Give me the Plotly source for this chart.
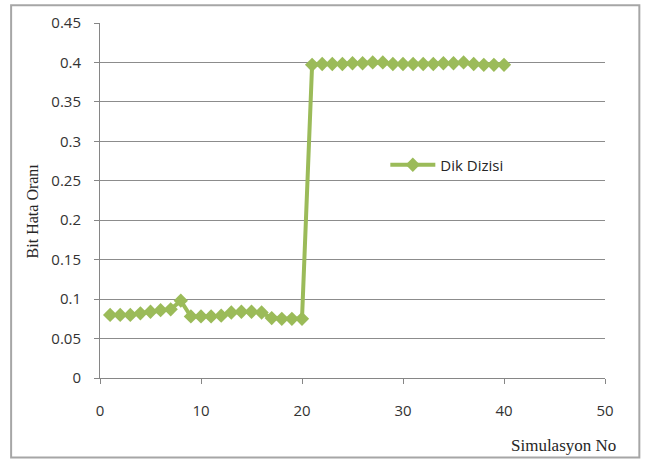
import plotly.graph_objects as go

# Simulation number and bit error rate for the orthogonal sequence
sim_no = list(range(1, 41))
bit_error_rate = [
    0.080, 0.080, 0.080, 0.082, 0.084, 0.086, 0.087, 0.098, 0.078, 0.078,
    0.078, 0.079, 0.083, 0.084, 0.084, 0.083, 0.076, 0.075, 0.075, 0.075,
    0.397, 0.398, 0.398, 0.398, 0.399, 0.399, 0.400, 0.400, 0.398, 0.398,
    0.398, 0.398, 0.398, 0.399, 0.399, 0.400, 0.398, 0.397, 0.397, 0.397,
]
series_name = "Dik Dizisi"
x_ticks = [0, 10, 20, 30, 40, 50]
y_ticks = [0, 0.05, 0.1, 0.15, 0.2, 0.25, 0.3, 0.35, 0.4, 0.45]
y_tick_text = ["0", "0.05", "0.1", "0.15", "0.2", "0.25", "0.3", "0.35", "0.4", "0.45"]

green = "#9BBB59"
label_font = dict(family="Open Sans, Liberation Sans, sans-serif", size=15, color="#333333")

fig = go.Figure()
fig.add_trace(go.Scatter(
    x=sim_no, y=bit_error_rate, name=series_name,
    mode="lines+markers",
    line=dict(color=green, width=4),
    marker=dict(symbol="diamond", size=11, color=green),
))

fig.update_layout(
    width=655, height=463,
    margin=dict(l=100, r=50, t=20, b=85),
    paper_bgcolor="white", plot_bgcolor="white",
    showlegend=True,
    legend=dict(x=0.565, y=0.60, xanchor="left", yanchor="middle",
                font=dict(family="Open Sans, Liberation Sans, sans-serif", size=15, color="#262626"),
                bgcolor="rgba(0,0,0,0)", itemwidth=45),
    xaxis=dict(range=[0, 50], tickvals=x_ticks, showgrid=False, zeroline=False,
               showline=True, linecolor="#868686", linewidth=1,
               ticks="outside", ticklen=5, tickcolor="#868686",
               tickfont=label_font, ticklabelstandoff=14),
    yaxis=dict(range=[0, 0.45], tickvals=y_ticks, ticktext=y_tick_text,
               showgrid=True, gridcolor="#8C8C8C", gridwidth=1, zeroline=False,
               showline=True, linecolor="#868686", linewidth=1,
               ticks="outside", ticklen=5, tickcolor="#868686",
               tickfont=label_font, ticklabelstandoff=10),
    annotations=[
        dict(text="Bit Hata Oranı", xref="paper", yref="paper", x=-0.155, y=0.47,
             textangle=-90, showarrow=False,
             font=dict(family="Liberation Serif, serif", size=16, color="#262626")),
        dict(text="Simulasyon No", xref="paper", yref="paper", x=1.025, y=-0.19,
             xanchor="right", yanchor="middle", showarrow=False,
             font=dict(family="Liberation Serif, serif", size=17, color="#262626")),
    ],
    shapes=[
        dict(type="rect", xref="paper", yref="paper",
             x0=-0.176, x1=1.068, y0=-0.224, y1=1.05,
             line=dict(color="#A6A6A6", width=2), fillcolor="rgba(0,0,0,0)", layer="below"),
    ],
)

fig.write_html("out.html")
